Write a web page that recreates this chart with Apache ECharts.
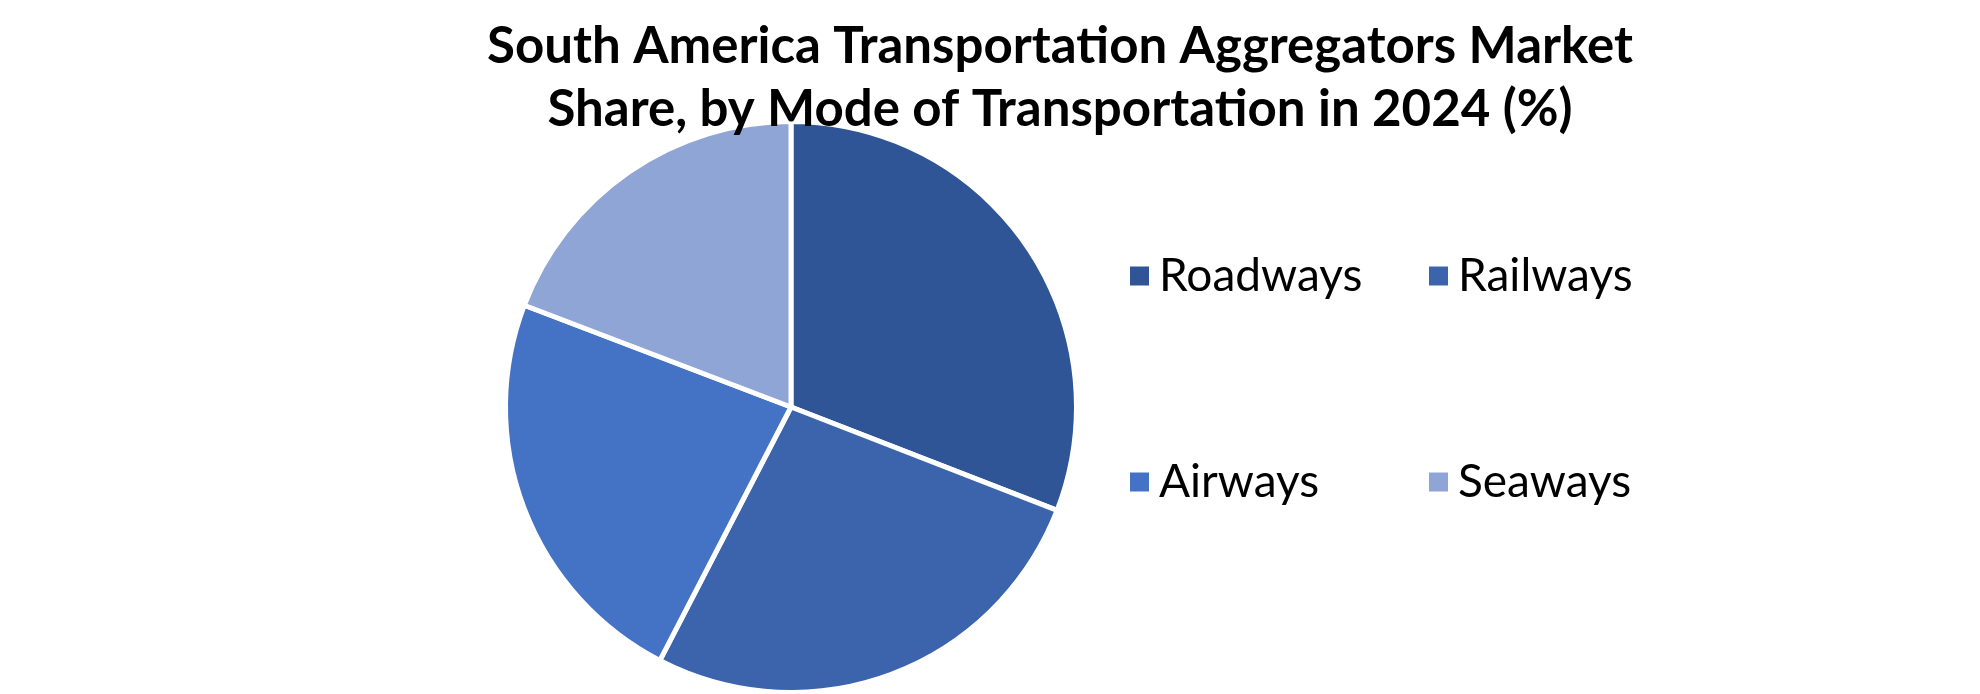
<!DOCTYPE html>
<html>
<head>
<meta charset="utf-8">
<script src="https://cdn.jsdelivr.net/npm/echarts@6/dist/echarts.min.js"></script>
<style>
  html, body { margin: 0; padding: 0; background: #fff; }
  #chart { width: 1980px; height: 694px; }
</style>
</head>
<body>
<div id="chart"></div>
<script>
const titleLines = ['South America Transportation Aggregators Market', 'Share, by Mode of Transportation in 2024 (%)'];
const categories = ['Roadways', 'Railways', 'Airways', 'Seaways'];
const shares = [30.9, 26.7, 23.2, 19.2];
const colors = ['#2F5597', '#3C64AC', '#4472C4', '#8FA5D5'];

const chart = echarts.init(document.getElementById('chart'), null, { renderer: 'canvas' });
const font = 'Lato, "Open Sans", sans-serif';

const legendBase = {
  orient: 'vertical',
  itemWidth: 21,
  itemHeight: 21,
  itemGap: 160,
  icon: 'rect',
  top: 248,
  textStyle: { fontFamily: font, fontSize: 46, color: '#000', lineHeight: 46, padding: [0, 0, 0, 4] },
  selectedMode: false
};

chart.setOption({
  animation: false,
  backgroundColor: '#fff',
  title: {
    text: titleLines.join('\n'),
    left: 1055,
    top: 10,
    textAlign: 'center',
    textStyle: { fontFamily: font, fontWeight: 'bold', fontSize: 51, lineHeight: 63, color: '#000' }
  },
  legend: [
    Object.assign({}, legendBase, { left: 1123, data: [categories[0], categories[2]] }),
    Object.assign({}, legendBase, { left: 1422, data: [categories[1], categories[3]] })
  ],
  series: [{
    type: 'pie',
    center: [791, 407],
    radius: 285.5,
    startAngle: 90,
    clockwise: true,
    label: { show: false },
    labelLine: { show: false },
    emphasis: { disabled: true },
    itemStyle: { borderColor: '#fff', borderWidth: 5 },
    data: categories.map((c, i) => ({ name: c, value: shares[i], itemStyle: { color: colors[i] } }))
  }]
});
</script>
</body>
</html>
